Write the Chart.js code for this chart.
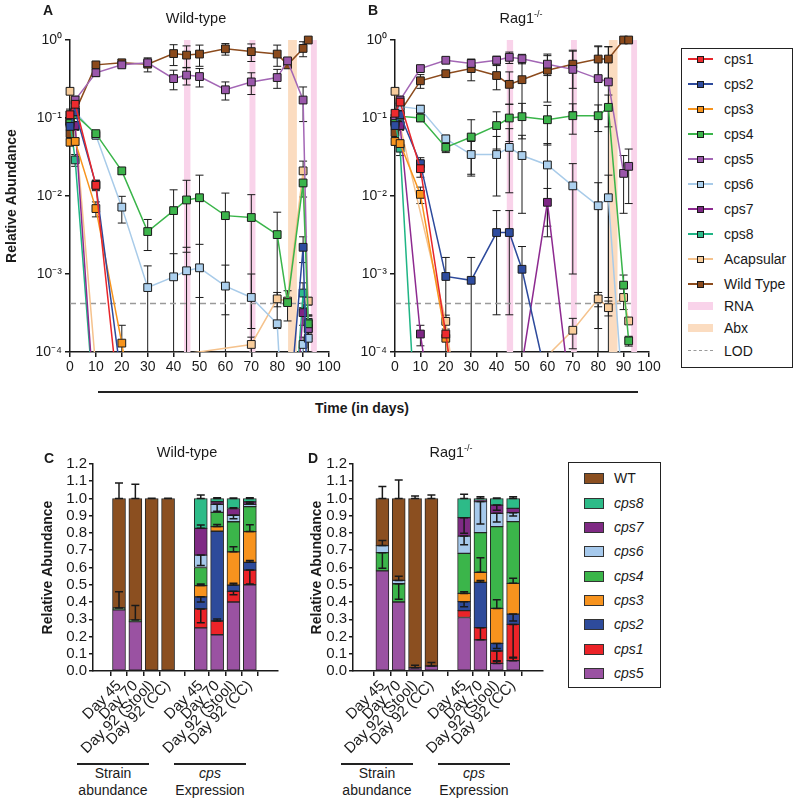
<!DOCTYPE html>
<html>
<head>
<meta charset="utf-8">
<script src="https://cdn.jsdelivr.net/npm/chart.js@4.4.1/dist/chart.umd.min.js"></script>
<style>
  body { margin: 0; background: #fff; font-family: "Liberation Sans", Arial, sans-serif; color: #1a1a1a; }
  #page { position: relative; width: 800px; height: 803px; overflow: hidden; }
  #page canvas { position: absolute; }
  .t { position: absolute; white-space: nowrap; font-size: 14px; line-height: 16px; transform: translateX(-50%); }
  .b { font-weight: bold; }
  .i { font-style: italic; }
  .hl { position: absolute; background: #222; }
  .legend { position: absolute; border: 1.5px solid #222; box-sizing: border-box; background: #fff; }
  .legend span { position: absolute; white-space: nowrap; font-size: 14px; line-height: 16px; }
  sup { font-size: 9px; line-height: 0; vertical-align: 6px; }
</style>
</head>
<body>
<div id="page">
  <canvas id="chartA" width="345" height="385" style="left:0;top:0"></canvas>
  <canvas id="chartB" width="310" height="385" style="left:355px;top:0"></canvas>
  <canvas id="chartC" width="300" height="320" style="left:0;top:440px"></canvas>
  <canvas id="chartD" width="260" height="320" style="left:300px;top:440px"></canvas>

  <div class="t b" style="left:48px;top:2px">A</div>
  <div class="t" style="left:196px;top:10px;font-size:14.5px">Wild-type</div>
  <div class="t b" style="left:373px;top:2px">B</div>
  <div class="t" style="left:521px;top:10px;font-size:14.5px">Rag1<sup>-/-</sup></div>

  <div class="hl" style="left:98px;top:391px;width:540px;height:2px"></div>
  <div class="t b" style="left:362px;top:400px">Time (in days)</div>

  <div class="t b" style="left:49px;top:450px">C</div>
  <div class="t" style="left:187px;top:444px;font-size:14.5px">Wild-type</div>
  <div class="t b" style="left:313px;top:450px">D</div>
  <div class="t" style="left:451px;top:444px;font-size:14.5px">Rag1<sup>-/-</sup></div>

  <div class="hl" style="left:77px;top:763px;width:72px;height:1.5px"></div>
  <div class="hl" style="left:174px;top:763px;width:72px;height:1.5px"></div>
  <div class="hl" style="left:341px;top:763px;width:72px;height:1.5px"></div>
  <div class="hl" style="left:438px;top:763px;width:72px;height:1.5px"></div>
  <div class="t" style="left:113px;top:765px">Strain</div>
  <div class="t" style="left:113px;top:782px">abundance</div>
  <div class="t i" style="left:210px;top:765px">cps</div>
  <div class="t" style="left:210px;top:782px">Expression</div>
  <div class="t" style="left:377px;top:765px">Strain</div>
  <div class="t" style="left:377px;top:782px">abundance</div>
  <div class="t i" style="left:474px;top:765px">cps</div>
  <div class="t" style="left:474px;top:782px">Expression</div>

  <div id="legTop" class="legend" style="left:681px;top:48px;width:112px;height:320px"></div>
  <div id="legBot" class="legend" style="left:568px;top:462px;width:93px;height:226px"></div>
</div>

<script>
Chart.defaults.font.family = '"Liberation Sans", Arial, sans-serif';
Chart.defaults.color = '#1a1a1a';

// ---- time course (panels A, B) ----
const days = [0, 2, 10, 20, 30, 40, 45, 50, 60, 70, 80, 84, 90, 92];
const L = 1e-6; // not detected, falls below the axis
const lod = 0.00042;
const rnaBands = [[44, 46.5], [69.3, 71.6], [93, 95.3]];
const abxBands = [[84.2, 87.6]];
const xTicks = [0, 10, 20, 30, 40, 50, 60, 70, 80, 90, 100];
const yTicks = [1e-4, 1e-3, 1e-2, 1e-1, 1];

const names = ['cps1', 'cps2', 'cps3', 'cps4', 'cps5', 'cps6', 'cps7', 'cps8', 'Acapsular', 'Wild Type'];
const lineColors = ['#e8262b', '#2d4a9c', '#f7941d', '#3ab54a', '#a366b5', '#a8cbe9', '#8d2a90', '#1fb585', '#f5c28c', '#8c4b1d'];
const markColors = ['#ee2a2e', '#2e4c9f', '#f7941d', '#3cb44b', '#9a57aa', '#acd0ee', '#7e2685', '#2ebc8b', '#f8cc9a', '#8b4a1c'];

// Wild-type mice
const A_cps1 = [0.11, 0.15, 0.0137, 1e-5, L, L, L, L, L, L, L, L, L, L];
const A_cps2 = [0.078, 0.12, 0.014, 4e-5, L, L, L, L, L, L, L, 1e-5, 0.0022, 1e-5];
const A_cps3 = [0.049, 0.05, 0.0069, 0.00013, L, L, L, L, L, L, L, L, L, L];
const A_cps4 = [0.085, 0.11, 0.063, 0.021, 0.0035, 0.0065, 0.0089, 0.0095, 0.0056, 0.0053, 0.0032, 0.00043, 0.0147, 0.00023];
const A_cps5 = [0.11, 0.17, 0.38, 0.48, 0.51, 0.32, 0.355, 0.34, 0.23, 0.29, 0.33, 0.54, 0.17, 0.0002];
const A_cps6 = [0.09, 0.12, 0.06, 0.0072, 0.00067, 0.00092, 0.0011, 0.0012, 0.0007, 0.0005, 0.00023, L, 0.000125, 0.00015];
const A_cps7 = [0.09, 0.08, 1e-5, L, L, L, L, L, L, L, L, L, 0.00032, 0.0002];
const A_cps8 = [0.09, 0.029, 1e-5, L, L, L, L, L, L, L, L, L, 0.00057, 0.00024];
const A_acap = [0.22, 0.08, 6e-5, L, L, 9e-5, null, null, null, 0.000125, 0.00048, 0.00045, 0.021, 0.00045];
const A_wt = [0.063, 0.12, 0.48, 0.51, 0.49, 0.67, 0.64, 0.66, 0.77, 0.71, 0.66, 0.48, 0.78, 1.0];

const A_cps1_sd = [0.01, 0.02, 0.002, 0, 0, 0, 0, 0, 0, 0, 0, 0, 0, 0];
const A_cps2_sd = [0.01, 0.02, 0.002, 0, 0, 0, 0, 0, 0, 0, 0, 0, 0.0008, 0];
const A_cps3_sd = [0.005, 0.005, 0.0015, 0.00009, 0, 0, 0, 0, 0, 0, 0, 0, 0, 0];
const A_cps4_sd = [0.01, 0.01, 0.005, 0.002, 0.0015, 0.0055, 0.007, 0.009, 0.0053, 0.0051, 0.003, 0.00018, 0.005, 0.00006];
const A_cps5_sd = [0.02, 0.02, 0.04, 0.04, 0.06, 0.09, 0.09, 0.09, 0.06, 0.09, 0.09, 0.05, 0.08, 0.0001];
const A_cps6_sd = [0.01, 0.02, 0.005, 0.0027, 0.0006, 0.0009, 0.0011, 0.0012, 0.0006, 0.0005, 0, 0, 0.00003, 0.00005];
const A_cps7_sd = [0.01, 0.01, 0, 0, 0, 0, 0, 0, 0, 0, 0, 0, 0.0001, 0.00005];
const A_cps8_sd = [0.01, 0.005, 0, 0, 0, 0, 0, 0, 0, 0, 0, 0, 0.0002, 0.00005];
const A_acap_sd = [0.02, 0.01, 0, 0, 0, 0, 0, 0, 0, 0.00003, 0.0001, 0, 0.007, 0.00005];
const A_wt_sd = [0.01, 0.02, 0.04, 0.05, 0.1, 0.2, 0.2, 0.2, 0.13, 0.18, 0.2, 0.03, 0.17, 0];

// Rag1-/- mice
const B_cps1 = [0.115, 0.16, 0.0224, 0.00017, L, L, L, L, L, L, L, L, L, L];
const B_cps2 = [0.08, 0.11, 0.026, 0.00093, 0.00083, 0.0034, 0.0034, 0.00115, 4e-5, L, L, L, L, L];
const B_cps3 = [0.05, 0.047, 0.0105, 0.00015, L, L, L, L, L, L, L, L, L, L];
const B_cps4 = [0.085, 0.105, 0.1, 0.042, 0.057, 0.08, 0.1, 0.104, 0.095, 0.107, 0.107, 0.137, 0.00072, 0.000139];
const B_cps5 = [0.1, 0.17, 0.43, 0.55, 0.5, 0.55, 0.6, 0.575, 0.49, 0.42, 0.32, 0.29, 0.0195, 0.024];
const B_cps6 = [0.09, 0.14, 0.13, 0.054, 0.034, 0.034, 0.042, 0.033, 0.025, 0.0135, 0.0075, 0.0095, 2e-5, L];
const B_cps7 = [0.09, 0.08, 0.00017, L, L, L, L, 7e-5, 0.0083, 1.5e-5, L, L, L, L];
const B_cps8 = [0.09, 0.041, L, L, L, L, L, L, L, L, L, L, L, L];
const B_acap = [0.22, 0.08, null, 0.000247, L, L, L, L, 9e-5, 0.00019, 0.00048, 0.00037, 0.0005, 0.00025];
const B_wt = [0.065, 0.12, 0.3, 0.37, 0.43, 0.35, 0.27, 0.31, 0.41, 0.49, 0.57, 0.57, 1.0, 1.0];

const B_cps1_sd = [0.01, 0.02, 0.005, 0.00007, 0, 0, 0, 0, 0, 0, 0, 0, 0, 0];
const B_cps2_sd = [0.01, 0.02, 0.005, 0.0007, 0.0008, 0.0031, 0.0031, 0.0011, 0, 0, 0, 0, 0, 0];
const B_cps3_sd = [0.005, 0.005, 0.0025, 0, 0, 0, 0, 0, 0, 0, 0, 0, 0, 0];
const B_cps4_sd = [0.01, 0.01, 0.01, 0.006, 0.038, 0.04, 0.05, 0.05, 0.05, 0.045, 0.04, 0.06, 0.00025, 0.00002];
const B_cps5_sd = [0.02, 0.02, 0.04, 0.04, 0.07, 0.07, 0.1, 0.08, 0.14, 0.3, 0.5, 0.53, 0.0135, 0.016];
const B_cps6_sd = [0.01, 0.02, 0.015, 0.006, 0.016, 0.024, 0.031, 0.027, 0.022, 0.0125, 0.0073, 0.009, 0, 0];
const B_cps7_sd = [0.01, 0.01, 0.00005, 0, 0, 0, 0, 0, 0.0042, 0, 0, 0, 0, 0];
const B_cps8_sd = [0.01, 0.008, 0, 0, 0, 0, 0, 0, 0, 0, 0, 0, 0, 0];
const B_acap_sd = [0.02, 0.01, 0, 0.00005, 0, 0, 0, 0, 0, 0.00008, 0.0001, 0.00008, 0.00015, 0.00002];
const B_wt_sd = [0.01, 0.02, 0.06, 0.03, 0.13, 0.12, 0.12, 0.2, 0.25, 0.25, 0.27, 0.25, 0, 0];

// ---- stacked bars (panels C, D) ----
const barSlots = [0, 1, 2, 3, 5, 6, 7, 8];
const barLabels = ['Day 45', 'Day 70', 'Day 92 (Stool)', 'Day 92 (CC)', 'Day 45', 'Day 70', 'Day 92 (Stool)', 'Day 92 (CC)'];
const barNames = ['cps5', 'cps1', 'cps2', 'cps3', 'cps4', 'cps6', 'cps7', 'cps8', 'WT'];
const barColors = ['#9a52a2', '#ec2328', '#2e4b9b', '#f7931e', '#3bb54a', '#a6c9ec', '#7f2a84', '#2dbb88', '#8b4f20'];

const C_cps5 = [0.354, 0.286, 0, 0, 0.25, 0.21, 0.40, 0.50];
const C_cps1 = [0, 0, 0, 0, 0.11, 0.08, 0.062, 0.085];
const C_cps2 = [0, 0, 0, 0, 0.07, 0.52, 0.036, 0.045];
const C_cps3 = [0, 0, 0, 0, 0.065, 0.027, 0.193, 0.178];
const C_cps4 = [0.011, 0.009, 0, 0, 0.105, 0.083, 0.174, 0.145];
const C_cps6 = [0, 0, 0, 0, 0.072, 0.046, 0.038, 0.013];
const C_cps7 = [0, 0, 0, 0, 0.155, 0.015, 0.039, 0.014];
const C_cps8 = [0, 0, 0, 0, 0.173, 0.019, 0.058, 0.02];
const C_wt = [0.635, 0.705, 1.0, 1.0, 0, 0, 0, 0];

const D_cps5 = [0.58, 0.40, 0.019, 0.029, 0.31, 0.18, 0.044, 0.06];
const D_cps1 = [0, 0, 0, 0, 0.04, 0.071, 0.072, 0.21];
const D_cps2 = [0, 0, 0, 0, 0.052, 0.263, 0.044, 0.06];
const D_cps3 = [0, 0, 0, 0, 0.048, 0.058, 0.203, 0.178];
const D_cps4 = [0.106, 0.106, 0, 0, 0.232, 0.23, 0.474, 0.358];
const D_cps6 = [0.041, 0.019, 0, 0, 0.1, 0.18, 0.077, 0.052];
const D_cps7 = [0, 0, 0, 0, 0.107, 0.009, 0.048, 0.025];
const D_cps8 = [0, 0, 0, 0, 0.111, 0.009, 0.038, 0.057];
const D_wt = [0.273, 0.475, 0.981, 0.971, 0, 0, 0, 0];

// error bars drawn from each segment top; negative = drawn downwards
const C_err = [
  [0, 0, 0, 0, 0, 0, 0, 0],
  [0, 0, 0, 0, -0.08, 0.012, -0.02, -0.08],
  [0, 0, 0, 0, -0.03, 0, 0.01, 0.01],
  [0, 0, 0, 0, 0.01, 0.012, 0.03, 0.04],
  [0.095, 0.084, 0, 0, 0, 0, 0, 0],
  [0, 0, 0, 0, -0.06, -0.04, -0.02, 0],
  [0, 0, 0, 0, 0.02, 0, 0.005, -0.01],
  [0, 0, 0, 0, 0.02, 0.005, 0.003, 0.005],
  [0.09, 0.082, 0.002, 0.002, 0, 0, 0, 0],
];
const D_err = [
  [0, 0, 0.015, 0.02, 0, 0, 0.015, 0.015],
  [0, 0, 0, 0, 0, -0.07, -0.06, -0.19],
  [0, 0, 0, 0, -0.03, 0.01, -0.03, -0.04],
  [0, 0, 0, 0, 0.01, 0.085, 0.05, 0.03],
  [-0.09, -0.09, 0, 0, 0, 0, 0, 0],
  [0.03, 0.025, 0, 0, -0.05, -0.13, -0.05, -0.02],
  [0, 0, 0, 0, -0.09, 0, -0.03, 0],
  [0, 0, 0, 0, 0.025, 0.01, 0.003, 0.01],
  [0.07, 0.107, 0.015, 0.02, 0, 0, 0, 0],
];

const INK = '#1a1a1a';
const sup = { '-': '\u207B', '0': '\u2070', '1': '\u00B9', '2': '\u00B2', '3': '\u00B3', '4': '\u2074' };
const logLabel = v => '10' + String(Math.round(Math.log10(v))).split('').map(c => sup[c]).join('');

const bandPlugin = {
  id: 'bands',
  beforeDatasetsDraw(chart) {
    const { ctx, chartArea: a, scales: { x } } = chart;
    ctx.save();
    const fill = (list, color) => list.forEach(([s, e]) => {
      const x0 = x.getPixelForValue(s), x1 = x.getPixelForValue(e);
      ctx.fillStyle = color;
      ctx.fillRect(x0, a.top, x1 - x0, a.bottom - a.top);
    });
    fill(rnaBands, '#f9d3ea');
    fill(abxBands, '#fbdcc0');
    ctx.restore();
  }
};

const sdPlugin = {
  id: 'sdBars',
  beforeDatasetsDraw(chart) {
    const { ctx, chartArea: a, scales: { x, y } } = chart;
    ctx.save();
    ctx.beginPath();
    ctx.rect(a.left - 8, a.top - 8, a.right - a.left + 16, a.bottom - a.top + 8);
    ctx.clip();
    ctx.strokeStyle = INK;
    ctx.lineWidth = 1;
    chart.data.datasets.forEach(ds => {
      if (!ds.sd) return;
      ds.data.forEach((p, i) => {
        const s = ds.sd[i];
        if (!s || p.y == null) return;
        const px = x.getPixelForValue(p.x);
        const hi = y.getPixelForValue(p.y + s);
        const low = p.y - s;
        const lo = low > 0 ? y.getPixelForValue(low) : a.bottom + 20;
        ctx.beginPath();
        ctx.moveTo(px, lo); ctx.lineTo(px, hi);
        ctx.moveTo(px - 4, hi); ctx.lineTo(px + 4, hi);
        ctx.moveTo(px - 4, lo); ctx.lineTo(px + 4, lo);
        ctx.stroke();
      });
    });
    ctx.restore();
  }
};

const barErrPlugin = {
  id: 'barErr',
  afterDatasetsDraw(chart) {
    const { ctx, scales: { x, y } } = chart;
    const sets = chart.data.datasets;
    ctx.save();
    ctx.strokeStyle = INK;
    ctx.lineWidth = 1.5;
    barSlots.forEach((slot, i) => {
      let top = 0;
      sets.forEach(ds => {
        top += ds.data[i].y || 0;
        const e = ds.err[i];
        if (!e) return;
        const px = x.getPixelForValue(slot);
        const y0 = y.getPixelForValue(top), y1 = y.getPixelForValue(top + e);
        ctx.beginPath();
        ctx.moveTo(px, y0); ctx.lineTo(px, y1);
        ctx.moveTo(px - 4, y1); ctx.lineTo(px + 4, y1);
        ctx.moveTo(px - 4, y0); ctx.lineTo(px + 4, y0);
        ctx.stroke();
      });
    });
    ctx.restore();
  }
};

const axisStyle = {
  grid: { drawOnChartArea: false, tickLength: 5, color: INK, lineWidth: 1.5 },
  border: { color: INK, width: 1.5 },
};

function lineChart(id, series, sds, yWidth, showTitle) {
  const datasets = series.map((vals, k) => ({
    label: names[k],
    data: days.map((d, i) => ({ x: d, y: vals[i] })),
    sd: sds[k],
    borderColor: lineColors[k],
    borderWidth: 1.5,
    pointStyle: 'rect',
    pointRadius: 5.5,
    pointBackgroundColor: markColors[k],
    pointBorderColor: INK,
    pointBorderWidth: 1,
    spanGaps: true,
    clip: { left: 8, top: 8, right: 8, bottom: 0 },
  }));
  datasets.push({
    label: 'LOD',
    data: [{ x: 0, y: lod }, { x: 93, y: lod }],
    borderColor: '#9a9a9a',
    borderWidth: 1.5,
    borderDash: [6, 4],
    pointRadius: 0,
  });
  return new Chart(document.getElementById(id), {
    type: 'line',
    data: { datasets },
    options: {
      responsive: false,
      animation: false,
      events: [],
      layout: { padding: { top: 40, right: 16, bottom: 0, left: 0 } },
      plugins: { legend: { display: false }, tooltip: { enabled: false } },
      scales: {
        x: {
          type: 'linear', min: 0, max: 100,
          afterBuildTicks: s => { s.ticks = xTicks.map(v => ({ value: v })); },
          afterFit: s => { s.height = 33; },
          ticks: { font: { size: 14 }, color: INK, padding: 2, maxRotation: 0, autoSkip: false },
          ...axisStyle,
        },
        y: {
          type: 'logarithmic', min: 1e-4, max: 1,
          afterBuildTicks: s => { s.ticks = yTicks.map(v => ({ value: v })); },
          afterFit: s => { s.width = yWidth; },
          ticks: { callback: v => logLabel(v), font: { size: 14 }, color: INK, padding: 3, autoSkip: false },
          title: {
            display: showTitle, text: 'Relative Abundance', color: INK,
            font: { size: 14, weight: 'bold' }, padding: { top: 4, bottom: 0 },
          },
          ...axisStyle,
        },
      },
    },
    plugins: [bandPlugin, sdPlugin],
  });
}

function barChart(id, vals, errs, yWidth, padRight, xMin, xMax, titlePad) {
  const datasets = barNames.map((n, k) => ({
    label: n,
    data: barSlots.map((s, i) => ({ x: s, y: vals[k][i] || null })),
    err: errs[k],
    backgroundColor: barColors[k],
    borderColor: '#262626',
    borderWidth: 1,
    borderSkipped: false,
    barThickness: 13,
  }));
  return new Chart(document.getElementById(id), {
    type: 'bar',
    data: { datasets },
    options: {
      responsive: false,
      animation: false,
      events: [],
      layout: { padding: { top: 24, right: padRight, bottom: 0, left: 0 } },
      plugins: { legend: { display: false }, tooltip: { enabled: false } },
      scales: {
        x: {
          type: 'linear', stacked: true, min: xMin, max: xMax,
          afterBuildTicks: s => { s.ticks = barSlots.map(v => ({ value: v })); },
          afterFit: s => { s.height = 89; },
          ticks: {
            callback: (v, i) => barLabels[i], autoSkip: false,
            minRotation: 45, maxRotation: 45, font: { size: 15 }, color: INK, padding: 1,
          },
          ...axisStyle,
        },
        y: {
          stacked: true, min: 0, max: 1.2,
          afterBuildTicks: s => { s.ticks = Array.from({ length: 13 }, (_, i) => ({ value: i / 10 })); },
          afterFit: s => { s.width = yWidth; },
          ticks: { callback: v => v.toFixed(1), font: { size: 15 }, color: INK, padding: 2, autoSkip: false },
          title: {
            display: true, text: 'Relative Abundance', color: INK,
            font: { size: 14, weight: 'bold' }, padding: { top: titlePad, bottom: 0 },
          },
          grid: { drawOnChartArea: false, tickLength: 4, color: INK, lineWidth: 1.5 },
          border: { color: INK, width: 1.5 },
        },
      },
    },
    plugins: [barErrPlugin],
  });
}

lineChart('chartA',
  [A_cps1, A_cps2, A_cps3, A_cps4, A_cps5, A_cps6, A_cps7, A_cps8, A_acap, A_wt],
  [A_cps1_sd, A_cps2_sd, A_cps3_sd, A_cps4_sd, A_cps5_sd, A_cps6_sd, A_cps7_sd, A_cps8_sd, A_acap_sd, A_wt_sd],
  70, true);
lineChart('chartB',
  [B_cps1, B_cps2, B_cps3, B_cps4, B_cps5, B_cps6, B_cps7, B_cps8, B_acap, B_wt],
  [B_cps1_sd, B_cps2_sd, B_cps3_sd, B_cps4_sd, B_cps5_sd, B_cps6_sd, B_cps7_sd, B_cps8_sd, B_acap_sd, B_wt_sd],
  40, false);
barChart('chartC', [C_cps5, C_cps1, C_cps2, C_cps3, C_cps4, C_cps6, C_cps7, C_cps8, C_wt], C_err, 93, 22, -0.883, 9.015, 40);
barChart('chartD', [D_cps5, D_cps1, D_cps2, D_cps3, D_cps4, D_cps6, D_cps7, D_cps8, D_wt], D_err, 53, 17, -1.07, 9.1, 9);

// ---- legends ----
const topRows = [10, 35, 60, 85, 110, 135, 160, 185, 210, 235, 257, 279, 302];
let html = '';
names.forEach((n, k) => {
  const cy = topRows[k];
  html += `<div style="position:absolute;left:6px;top:${cy - 0.75}px;width:25px;height:1.5px;background:${lineColors[k]}"></div>`;
  html += `<div style="position:absolute;left:15px;top:${cy - 3.5}px;width:7px;height:7px;box-sizing:border-box;border:1px solid ${INK};background:${markColors[k]}"></div>`;
  html += `<span style="left:42px;top:${cy - 8}px">${n}</span>`;
});
html += `<div style="position:absolute;left:6px;top:${topRows[10] - 4}px;width:25px;height:8px;background:#f9d3ea"></div><span style="left:42px;top:${topRows[10] - 8}px">RNA</span>`;
html += `<div style="position:absolute;left:6px;top:${topRows[11] - 4}px;width:25px;height:8px;background:#fbdcc0"></div><span style="left:42px;top:${topRows[11] - 8}px">Abx</span>`;
html += `<div style="position:absolute;left:6px;top:${topRows[12] - 0.75}px;width:25px;height:0;border-top:1.5px dashed #9a9a9a"></div><span style="left:42px;top:${topRows[12] - 8}px">LOD</span>`;
document.getElementById('legTop').innerHTML = html;

const botRows = [15, 40, 64, 88, 113, 137, 161, 186, 210];
html = '';
barNames.slice().reverse().forEach((n, j) => {
  const k = barNames.length - 1 - j;
  const cy = botRows[j];
  html += `<div style="position:absolute;left:15px;top:${cy - 5.5}px;width:20px;height:11px;box-sizing:border-box;border:1px solid #333;background:${barColors[k]}"></div>`;
  html += `<span style="left:45px;top:${cy - 8}px;${n === 'WT' ? '' : 'font-style:italic'}">${n}</span>`;
});
document.getElementById('legBot').innerHTML = html;
</script>
</body>
</html>
